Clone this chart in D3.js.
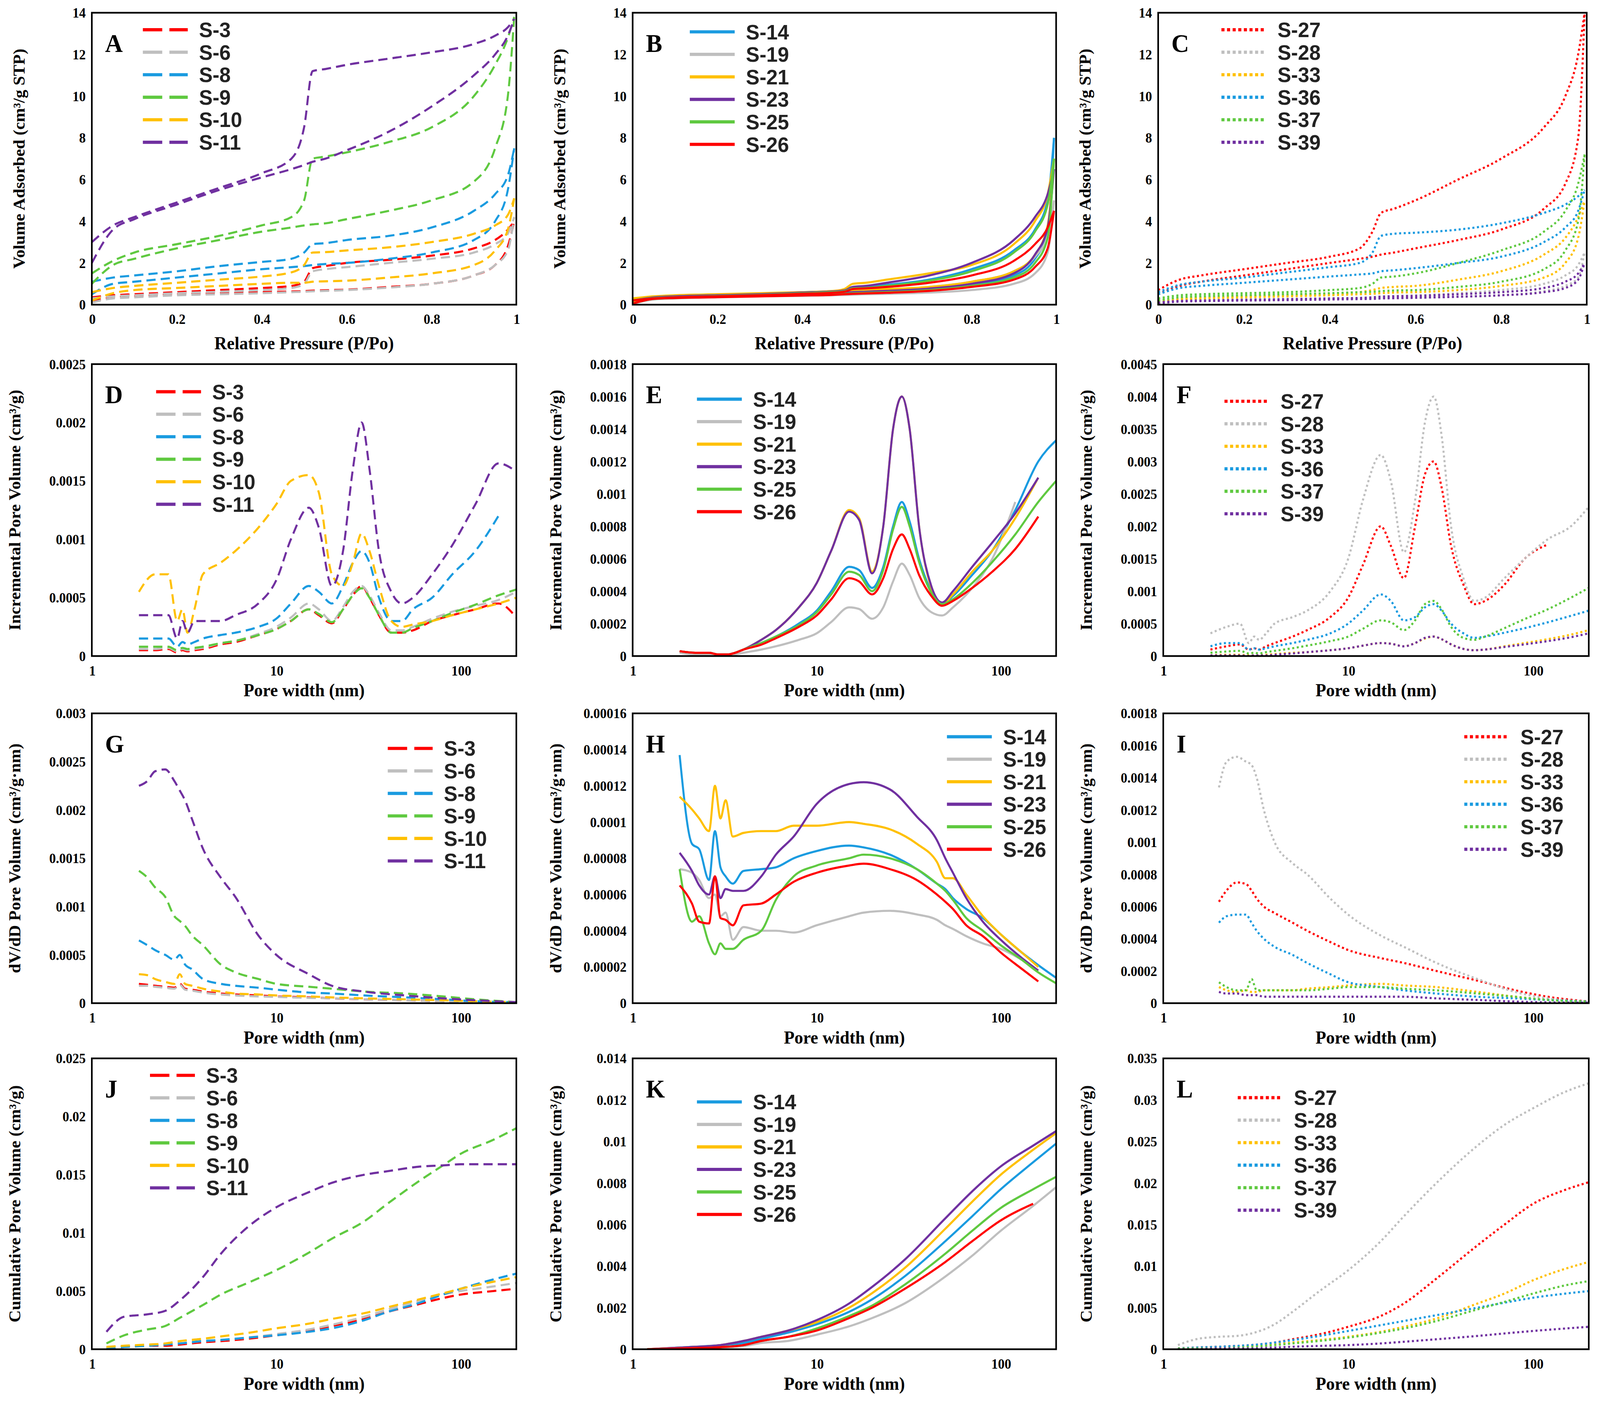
<!DOCTYPE html>
<html><head><meta charset="utf-8">
<script src="https://cdn.jsdelivr.net/npm/d3@7"></script>
<style>html,body{margin:0;padding:0;overflow:hidden;background:#fff}svg{display:block;width:100vw;height:100vh}</style>
</head><body>
<svg id="c" viewBox="0 0 1568 1332" preserveAspectRatio="none"></svg>
<script>
// ---- data ----
var pressure = [0,0.05,0.1,0.2,0.3,0.4,0.47,0.5,0.52,0.55,0.6,0.7,0.8,0.9,0.95,0.98,0.995];

// panel A (adsorption / desorption branches)
var aNames = ["S-3","S-6","S-8","S-9","S-10","S-11"];
var aAds = [
  [0.15,0.35,0.4,0.5,0.55,0.6,0.63,0.65,0.67,0.69,0.72,0.85,1.0,1.4,1.9,2.8,4.0],
  [0.1,0.3,0.35,0.45,0.5,0.55,0.6,0.62,0.64,0.66,0.7,0.82,1.0,1.4,1.9,2.6,4.2],
  [0.5,1.0,1.1,1.3,1.5,1.7,1.8,1.85,1.9,1.95,2.0,2.2,2.5,3.1,4.0,5.5,7.5],
  [1.0,1.9,2.2,2.7,3.1,3.5,3.7,3.8,3.85,3.9,4.1,4.5,5.0,5.9,7.5,10,13.8],
  [0.2,0.55,0.7,0.8,0.9,1.0,1.05,1.05,1.1,1.12,1.15,1.3,1.5,1.9,2.6,3.6,5.1],
  [2.0,3.6,4.1,4.8,5.5,6.1,6.5,6.7,6.85,7.0,7.4,8.3,9.5,11.0,12.0,12.9,13.7]];
var aDes = [
  [0.35,0.45,0.5,0.6,0.7,0.8,0.9,1.1,1.75,1.85,2.0,2.15,2.35,2.7,3.1,3.6,4.0],
  [0.3,0.4,0.45,0.55,0.62,0.7,0.8,1.0,1.6,1.7,1.8,2.0,2.2,2.5,2.9,3.4,4.2],
  [1.1,1.3,1.4,1.6,1.85,2.05,2.2,2.5,2.9,2.95,3.1,3.3,3.7,4.5,5.3,6.2,7.5],
  [1.5,2.1,2.5,2.9,3.3,3.8,4.2,5.0,7.0,7.1,7.3,7.8,8.5,10,11.5,12.8,13.8],
  [0.6,0.8,0.9,1.05,1.2,1.35,1.55,1.9,2.5,2.52,2.6,2.75,3.0,3.4,3.8,4.3,5.1],
  [3.0,3.8,4.2,4.9,5.6,6.3,7.0,8.5,11.2,11.3,11.5,11.8,12.1,12.5,12.9,13.3,13.7]];

// panel B
var bNames = ["S-14","S-19","S-21","S-23","S-25","S-26"];
var bAds = [
  [0.05,0.3,0.35,0.4,0.45,0.5,0.55,0.57,0.6,0.62,0.65,0.75,0.95,1.4,2.2,3.5,8.0],
  [0.05,0.25,0.3,0.35,0.4,0.42,0.45,0.47,0.48,0.5,0.52,0.58,0.7,1.0,1.5,2.5,5.0],
  [0.1,0.35,0.4,0.45,0.5,0.55,0.6,0.65,0.7,0.72,0.75,0.85,1.1,1.6,2.4,3.8,7.0],
  [0.05,0.3,0.35,0.4,0.45,0.5,0.55,0.57,0.6,0.62,0.66,0.77,1.0,1.5,2.4,3.7,6.5],
  [0.05,0.28,0.32,0.38,0.42,0.47,0.5,0.52,0.55,0.57,0.6,0.7,0.9,1.3,2.0,3.2,7.0],
  [0.05,0.28,0.32,0.36,0.4,0.44,0.47,0.5,0.52,0.54,0.57,0.66,0.85,1.2,1.8,2.7,4.5]];
var bDes = [
  [0.2,0.35,0.4,0.45,0.5,0.6,0.65,0.7,0.85,0.87,0.95,1.2,1.7,2.6,3.6,5,8.0],
  [0.15,0.3,0.33,0.38,0.42,0.48,0.52,0.55,0.62,0.64,0.7,0.85,1.1,1.6,2.3,3.3,5.0],
  [0.3,0.4,0.45,0.5,0.55,0.6,0.65,0.75,1.0,1.05,1.2,1.5,1.9,2.9,4.0,5.3,7.0],
  [0.2,0.35,0.4,0.45,0.5,0.58,0.63,0.68,0.85,0.9,1.05,1.4,2.0,3.1,4.2,5.3,6.5],
  [0.2,0.32,0.36,0.42,0.47,0.55,0.6,0.65,0.78,0.8,0.9,1.15,1.6,2.5,3.5,4.8,7.0],
  [0.2,0.3,0.35,0.4,0.45,0.52,0.57,0.62,0.75,0.78,0.85,1.05,1.4,2.1,2.9,3.7,4.5]];

// panel C
var cNames = ["S-27","S-28","S-33","S-36","S-37","S-39"];
var cAds = [
  [0.5,0.9,1.1,1.4,1.7,2.0,2.2,2.3,2.4,2.5,2.7,3.1,3.6,4.6,5.8,8,14],
  [0.05,0.15,0.18,0.2,0.22,0.25,0.27,0.28,0.3,0.31,0.33,0.38,0.45,0.65,0.9,1.3,2.5],
  [0.1,0.25,0.3,0.35,0.4,0.45,0.5,0.52,0.55,0.58,0.6,0.7,0.9,1.3,2.0,3.2,5.0],
  [0.5,0.8,0.9,1.05,1.2,1.35,1.45,1.5,1.6,1.65,1.75,2.0,2.3,3.0,3.7,4.5,5.5],
  [0.2,0.35,0.4,0.45,0.5,0.55,0.6,0.62,0.65,0.68,0.7,0.85,1.1,1.7,2.6,4.0,7.2],
  [0.05,0.15,0.17,0.2,0.22,0.25,0.27,0.28,0.3,0.31,0.33,0.38,0.45,0.6,0.8,1.2,2.0]];
var cDes = [
  [0.7,1.2,1.4,1.7,2.0,2.3,2.7,3.5,4.4,4.6,5.0,6.0,7.0,8.5,10,12,14],
  [0.1,0.2,0.22,0.25,0.28,0.3,0.33,0.36,0.4,0.42,0.45,0.55,0.7,1.0,1.4,1.9,2.5],
  [0.2,0.3,0.35,0.4,0.45,0.5,0.6,0.7,0.8,0.85,0.9,1.2,1.6,2.4,3.2,4.2,5.0],
  [0.6,0.95,1.1,1.3,1.55,1.8,2.0,2.5,3.3,3.4,3.45,3.6,3.9,4.4,4.8,5.2,5.5],
  [0.3,0.45,0.5,0.55,0.6,0.7,0.8,1.0,1.3,1.35,1.5,2.0,2.6,3.5,4.5,5.8,7.2],
  [0.1,0.18,0.2,0.23,0.26,0.3,0.32,0.35,0.38,0.4,0.42,0.5,0.6,0.8,1.1,1.5,2.0]];

// incremental pore volume (D, E, F)
var incWidth = [1.8,2.2,2.6,2.9,3.1,3.3,3.6,4,5,6,8,10,12,15,17,20,23,26,29,32,36,42,48,55,70,90,120,160,200];
var dVals = [
  [5e-5,5e-5,6e-5,3e-5,5e-5,4e-5,5e-5,6e-5,1e-4,1.2e-4,1.8e-4,2.3e-4,3e-4,4e-4,3.5e-4,2.8e-4,4e-4,5.2e-4,6e-4,5e-4,3.5e-4,2e-4,2e-4,2.2e-4,3e-4,3.5e-4,4e-4,4.5e-4,3.3e-4],
  [6e-5,6e-5,7e-5,4e-5,6e-5,5e-5,6e-5,7e-5,1.1e-4,1.3e-4,1.9e-4,2.5e-4,3.3e-4,4.5e-4,4e-4,3e-4,4.2e-4,5.5e-4,6e-4,5.2e-4,3.7e-4,2.2e-4,2.2e-4,2.5e-4,3.2e-4,3.8e-4,4.3e-4,4.8e-4,5.5e-4],
  [1.5e-4,1.5e-4,1.5e-4,8e-5,1.2e-4,1e-4,1.2e-4,1.5e-4,1.8e-4,2e-4,2.5e-4,3.2e-4,4.5e-4,6e-4,5.5e-4,4.5e-4,6e-4,8e-4,9e-4,8e-4,5e-4,3e-4,3e-4,4e-4,5e-4,7e-4,9e-4,1.2e-3,null],
  [8e-5,8e-5,8e-5,5e-5,7e-5,6e-5,7e-5,8e-5,1.1e-4,1.3e-4,1.8e-4,2.3e-4,3e-4,4e-4,3.6e-4,2.9e-4,4e-4,5.2e-4,5.8e-4,5e-4,3.5e-4,2e-4,2e-4,2.4e-4,3e-4,3.7e-4,4.4e-4,5.2e-4,5.7e-4],
  [5.5e-4,7e-4,7e-4,3e-4,4e-4,2e-4,4e-4,7e-4,8e-4,9e-4,1.1e-3,1.3e-3,1.5e-3,1.55e-3,1.4e-3,7e-4,6e-4,8e-4,1.05e-3,9e-4,6e-4,3e-4,2.5e-4,2.7e-4,3e-4,3.5e-4,4e-4,4.5e-4,5e-4],
  [3.5e-4,3.5e-4,3.5e-4,1.5e-4,3e-4,2e-4,3e-4,3e-4,3e-4,3.5e-4,4.5e-4,6.5e-4,1e-3,1.27e-3,1.1e-3,6e-4,9e-4,1.6e-3,2e-3,1.6e-3,9e-4,5.5e-4,4.5e-4,5e-4,7e-4,9.5e-4,1.3e-3,1.65e-3,1.58e-3]];
var eVals = [
  [3e-5,2e-5,2e-5,1e-5,1e-5,1e-5,2e-5,4e-5,8e-5,1.2e-4,2e-4,2.8e-4,4e-4,5.5e-4,5.3e-4,4.2e-4,5.5e-4,8e-4,9.5e-4,8.3e-4,6e-4,4e-4,3.2e-4,3.7e-4,5e-4,6.5e-4,9e-4,1.2e-3,1.33e-3],
  [2e-5,1e-5,1e-5,0,0,0,1e-5,2e-5,4e-5,6e-5,1e-4,1.4e-4,2.1e-4,3e-4,2.9e-4,2.3e-4,3e-4,4.6e-4,5.7e-4,5e-4,3.6e-4,2.7e-4,2.5e-4,3e-4,4.2e-4,6e-4,9.5e-4,null,null],
  [3e-5,2e-5,2e-5,1e-5,1e-5,1e-5,2e-5,4e-5,1e-4,1.6e-4,3e-4,4.5e-4,6.5e-4,9e-4,8.5e-4,5.2e-4,8e-4,1.4e-3,1.6e-3,1.4e-3,8e-4,4.2e-4,3.2e-4,3.8e-4,5.2e-4,6.5e-4,8.5e-4,1.1e-3,null],
  [3e-5,2e-5,2e-5,1e-5,1e-5,1e-5,2e-5,4e-5,1e-4,1.6e-4,3e-4,4.5e-4,6.5e-4,8.9e-4,8.4e-4,5.1e-4,8e-4,1.4e-3,1.6e-3,1.4e-3,8e-4,4.3e-4,3.3e-4,4e-4,5.5e-4,7e-4,8.8e-4,1.1e-3,null],
  [3e-5,2e-5,2e-5,1e-5,1e-5,1e-5,2e-5,4e-5,8e-5,1.2e-4,1.9e-4,2.7e-4,3.8e-4,5.2e-4,5e-4,4e-4,5.3e-4,7.8e-4,9.2e-4,8e-4,5.8e-4,3.9e-4,3.2e-4,3.5e-4,4.5e-4,5.8e-4,7.5e-4,9.5e-4,1.08e-3],
  [3e-5,2e-5,2e-5,1e-5,1e-5,1e-5,2e-5,4e-5,7e-5,1.1e-4,1.8e-4,2.5e-4,3.5e-4,4.8e-4,4.6e-4,3.8e-4,4.8e-4,6.6e-4,7.5e-4,6.6e-4,5e-4,3.7e-4,3.1e-4,3.4e-4,4.2e-4,5.2e-4,6.6e-4,8.6e-4,null]];
var fVals = [
  [1e-4,1.5e-4,1.8e-4,1e-4,1.2e-4,1e-4,1.5e-4,2e-4,3e-4,4e-4,6e-4,9e-4,1.4e-3,2e-3,1.7e-3,1.2e-3,2e-3,2.8e-3,3e-3,2.6e-3,1.7e-3,1.1e-3,8e-4,8.5e-4,1.1e-3,1.5e-3,1.72e-3,null,null],
  [3.5e-4,4.5e-4,5e-4,2e-4,3e-4,2.5e-4,3.5e-4,5e-4,6e-4,7e-4,1e-3,1.5e-3,2.4e-3,3.1e-3,2.7e-3,1.6e-3,2.4e-3,3.6e-3,4e-3,3.4e-3,2e-3,1.2e-3,8.5e-4,9e-4,1.2e-3,1.5e-3,1.8e-3,2e-3,2.3e-3],
  [1e-5,2e-5,2e-5,1e-5,1e-5,1e-5,2e-5,3e-5,5e-5,6e-5,9e-5,1.2e-4,1.6e-4,2e-4,1.9e-4,1.5e-4,2e-4,2.7e-4,3e-4,2.6e-4,1.8e-4,1.1e-4,9e-5,1e-4,1.5e-4,2e-4,2.6e-4,3.3e-4,4e-4],
  [1.5e-4,2e-4,2e-4,1e-4,1.2e-4,1e-4,1.2e-4,1.5e-4,2e-4,2.5e-4,3.5e-4,5e-4,7e-4,9.5e-4,8.5e-4,5.5e-4,6e-4,7.5e-4,8e-4,7e-4,5e-4,3.5e-4,2.8e-4,3e-4,3.6e-4,4.3e-4,5.2e-4,6.2e-4,7e-4],
  [5e-5,7e-5,8e-5,4e-5,5e-5,4e-5,6e-5,8e-5,1.2e-4,1.6e-4,2.3e-4,3e-4,4.2e-4,5.5e-4,5.2e-4,4e-4,5.5e-4,8e-4,8.5e-4,7.2e-4,4.5e-4,2.8e-4,2.5e-4,3e-4,4.3e-4,5.7e-4,7.2e-4,9e-4,1.05e-3],
  [1e-5,1e-5,1e-5,0,1e-5,1e-5,1e-5,2e-5,4e-5,6e-5,9e-5,1.2e-4,1.6e-4,2e-4,1.9e-4,1.5e-4,2e-4,2.8e-4,3e-4,2.6e-4,1.8e-4,1.1e-4,9e-5,1e-4,1.4e-4,1.8e-4,2.3e-4,2.9e-4,3.5e-4]];

// dV/dD (G, H, I)
var gWidth = [1.8,2,2.2,2.5,2.8,3,3.2,3.5,4,5,6,8,10,15,20,30,50,80,120,200];
var gVals = [
  [2e-4,1.9e-4,1.8e-4,1.7e-4,1.6e-4,2e-4,1.5e-4,1.4e-4,1.2e-4,1e-4,9e-5,8e-5,7e-5,6e-5,5e-5,4e-5,3e-5,2e-5,1e-5,5e-6],
  [1.8e-4,1.8e-4,1.7e-4,1.6e-4,1.5e-4,1.9e-4,1.4e-4,1.3e-4,1.1e-4,9e-5,8e-5,7e-5,6.5e-5,5.5e-5,5e-5,4e-5,3e-5,2e-5,1e-5,5e-6],
  [6.5e-4,6e-4,5.5e-4,5e-4,4.5e-4,5e-4,4e-4,3.5e-4,2.5e-4,2e-4,1.8e-4,1.6e-4,1.4e-4,1.1e-4,1e-4,8e-5,6e-5,4e-5,2e-5,1e-5],
  [1.37e-3,1.3e-3,1.2e-3,1.1e-3,9e-4,8.5e-4,8e-4,7e-4,6e-4,4e-4,3.2e-4,2.5e-4,2e-4,1.7e-4,1.5e-4,1.2e-4,1e-4,7e-5,4e-5,1e-5],
  [3e-4,2.9e-4,2.5e-4,2.2e-4,2e-4,3e-4,2e-4,1.8e-4,1.5e-4,1.2e-4,1e-4,9e-5,8e-5,7e-5,6e-5,5e-5,4e-5,3e-5,2e-5,1e-5],
  [2.25e-3,2.3e-3,2.4e-3,2.42e-3,2.3e-3,2.2e-3,2.1e-3,1.9e-3,1.6e-3,1.3e-3,1.1e-3,7e-4,5e-4,3e-4,1.8e-4,1.2e-4,8e-5,5e-5,3e-5,1e-5]];
var hWidth = [1.8,2.1,2.3,2.6,2.8,3.0,3.2,3.5,4.0,5,6,7.5,10,15,18,25,35,45,50,55,65,80,100,130,160,200];
var hVals = [
  [1.37e-4,8.8e-5,8.5e-5,6.8e-5,9.5e-5,7.5e-5,7e-5,6.6e-5,7.3e-5,7.4e-5,7.5e-5,8e-5,8.4e-5,8.7e-5,8.6e-5,8.2e-5,7.4e-5,6.6e-5,6.3e-5,5.8e-5,5.2e-5,4.7e-5,3.8e-5,2.8e-5,2.1e-5,1.4e-5],
  [7.4e-5,7.2e-5,6.8e-5,5.8e-5,6e-5,4.8e-5,5e-5,3.5e-5,4.2e-5,4e-5,4e-5,3.9e-5,4.3e-5,4.8e-5,5e-5,5.1e-5,4.9e-5,4.6e-5,4.3e-5,4.1e-5,3.7e-5,3.3e-5,3e-5,2.4e-5,null,null],
  [1.14e-4,1.07e-4,1.02e-4,9.5e-5,1.2e-4,1.02e-4,1.12e-4,9.2e-5,9.4e-5,9.5e-5,9.5e-5,9.8e-5,9.8e-5,1e-4,9.9e-5,9.6e-5,8.8e-5,7.8e-5,6.9e-5,6.9e-5,6e-5,4.8e-5,3.8e-5,2.8e-5,2e-5,null],
  [8.3e-5,7.3e-5,6.5e-5,6e-5,7e-5,5.8e-5,6.3e-5,6.2e-5,6.2e-5,7e-5,8.2e-5,9.2e-5,1.1e-4,1.21e-4,1.22e-4,1.18e-4,1.03e-4,9e-5,8e-5,7.2e-5,5.8e-5,4.5e-5,3.5e-5,2.5e-5,1.8e-5,null],
  [7.4e-5,4.5e-5,4.8e-5,3.3e-5,2.7e-5,3.3e-5,3e-5,3e-5,3.5e-5,4e-5,5.7e-5,7e-5,7.6e-5,8e-5,8.2e-5,8e-5,7.4e-5,6.6e-5,6.2e-5,5.7e-5,4.7e-5,4e-5,3.2e-5,2.4e-5,1.7e-5,1.1e-5],
  [6.5e-5,5.5e-5,4.5e-5,4.4e-5,7e-5,4.7e-5,4.6e-5,4.3e-5,5.4e-5,5.5e-5,6e-5,6.7e-5,7.2e-5,7.6e-5,7.7e-5,7.4e-5,6.8e-5,6e-5,5.6e-5,5.2e-5,4.3e-5,3.7e-5,2.8e-5,1.9e-5,1.2e-5,null]];
var iWidth = [2,2.2,2.5,2.8,3.0,3.2,3.5,4,5,6,8,10,15,20,30,50,80,120,200];
var iVals = [
  [6.3e-4,7e-4,7.5e-4,7.4e-4,7e-4,6.5e-4,6e-4,5.6e-4,5e-4,4.5e-4,3.8e-4,3.3e-4,2.8e-4,2.5e-4,2e-4,1.4e-4,8e-5,4e-5,1e-5],
  [1.34e-3,1.5e-3,1.53e-3,1.5e-3,1.48e-3,1.4e-3,1.2e-3,1e-3,8.7e-4,8e-4,6.5e-4,5.5e-4,4.2e-4,3.5e-4,2.5e-4,1.5e-4,7e-5,3e-5,1e-5],
  [1e-4,8e-5,7e-5,8e-5,7e-5,7e-5,8e-5,8e-5,8e-5,9e-5,1e-4,1.1e-4,1.2e-4,1.1e-4,1e-4,7e-5,4e-5,2e-5,1e-5],
  [5e-4,5.4e-4,5.5e-4,5.5e-4,5e-4,4.5e-4,4e-4,3.5e-4,3e-4,2.5e-4,1.8e-4,1.3e-4,1e-4,8e-5,6e-5,4e-5,3e-5,2e-5,1e-5],
  [1.3e-4,1e-4,8e-5,8e-5,1.5e-4,8e-5,8e-5,8e-5,8e-5,8e-5,9e-5,1e-4,1e-4,9e-5,8e-5,6e-5,4e-5,2e-5,1e-5],
  [7e-5,6e-5,6e-5,5e-5,5e-5,5e-5,4e-5,4e-5,4e-5,4e-5,4e-5,4e-5,4e-5,4e-5,3e-5,2e-5,1e-5,5e-6,3e-6]];

// cumulative (J, K, L)
var jWidth = [1.2,1.5,2,2.5,3,4,5,7,10,15,20,30,40,60,80,100,150,200];
var jVals = [
  [1e-4,2e-4,3e-4,3e-4,4e-4,6e-4,7e-4,9e-4,1.2e-3,1.6e-3,2e-3,2.6e-3,3.2e-3,3.9e-3,4.4e-3,4.7e-3,5e-3,5.2e-3],
  [1e-4,2e-4,3e-4,4e-4,5e-4,7e-4,8e-4,1e-3,1.3e-3,1.7e-3,2.1e-3,2.8e-3,3.4e-3,4.2e-3,4.7e-3,5e-3,5.4e-3,5.7e-3],
  [1e-4,2e-4,3e-4,4e-4,5e-4,7e-4,8e-4,1e-3,1.2e-3,1.5e-3,1.8e-3,2.5e-3,3.2e-3,4e-3,4.7e-3,5.2e-3,6e-3,6.5e-3],
  [5e-4,1.2e-3,1.7e-3,2e-3,2.7e-3,3.8e-3,4.7e-3,5.7e-3,6.8e-3,8.3e-3,9.5e-3,1.1e-2,1.25e-2,1.45e-2,1.58e-2,1.68e-2,1.8e-2,1.9e-2],
  [2e-4,3e-4,4e-4,5e-4,7e-4,9e-4,1.1e-3,1.4e-3,1.8e-3,2.2e-3,2.6e-3,3.1e-3,3.6e-3,4.3e-3,4.8e-3,5.2e-3,5.8e-3,6.2e-3],
  [1.5e-3,2.8e-3,3e-3,3.3e-3,4.2e-3,6.2e-3,8.2e-3,1.05e-2,1.22e-2,1.35e-2,1.43e-2,1.5e-2,1.53e-2,1.57e-2,1.58e-2,1.59e-2,1.59e-2,1.59e-2]];
var kWidth = [1.2,2,3,4,5,7,10,15,20,30,50,70,100,150,200];
var kVals = [
  [0,1e-4,2e-4,3e-4,5e-4,8e-4,1.2e-3,1.8e-3,2.4e-3,3.5e-3,5.2e-3,6.4e-3,7.7e-3,9e-3,9.9e-3],
  [0,3e-5,8e-5,1.5e-4,3e-4,4e-4,7e-4,1.1e-3,1.5e-3,2.2e-3,3.5e-3,4.5e-3,5.7e-3,6.9e-3,7.8e-3],
  [0,1e-4,2e-4,4e-4,6e-4,9e-4,1.3e-3,2e-3,2.7e-3,3.9e-3,5.8e-3,7.1e-3,8.4e-3,9.6e-3,1.04e-2],
  [0,1e-4,2e-4,4e-4,6e-4,9e-4,1.4e-3,2.2e-3,3e-3,4.3e-3,6.3e-3,7.6e-3,8.8e-3,9.8e-3,1.05e-2],
  [0,5e-5,1e-4,2e-4,4e-4,6e-4,1e-3,1.6e-3,2.1e-3,3.1e-3,4.6e-3,5.7e-3,6.8e-3,7.7e-3,8.3e-3],
  [0,5e-5,1e-4,2e-4,4e-4,6e-4,9e-4,1.5e-3,2e-3,2.9e-3,4.2e-3,5.2e-3,6.2e-3,7e-3,null]];
var lWidth = [1.2,1.5,2,2.5,3,4,5,7,10,15,20,30,50,70,100,150,200];
var lVals = [
  [1e-4,2e-4,3e-4,4e-4,5e-4,8e-4,1.2e-3,1.8e-3,2.7e-3,4e-3,5.5e-3,8.5e-3,1.25e-2,1.5e-2,1.75e-2,1.92e-2,2.01e-2],
  [5e-4,1.2e-3,1.5e-3,1.6e-3,1.9e-3,3e-3,4.5e-3,7e-3,9.5e-3,1.3e-2,1.6e-2,2e-2,2.45e-2,2.7e-2,2.9e-2,3.1e-2,3.2e-2],
  [1e-4,1e-4,2e-4,3e-4,4e-4,6e-4,8e-4,1.1e-3,1.5e-3,2.1e-3,2.7e-3,3.7e-3,5.5e-3,6.7e-3,8.3e-3,9.7e-3,1.05e-2],
  [1e-4,2e-4,3e-4,4e-4,5e-4,8e-4,1.1e-3,1.6e-3,2.2e-3,2.9e-3,3.4e-3,4.1e-3,5e-3,5.6e-3,6.2e-3,6.7e-3,7e-3],
  [1e-4,1e-4,1e-4,2e-4,3e-4,5e-4,7e-4,1e-3,1.4e-3,2e-3,2.5e-3,3.4e-3,4.8e-3,5.7e-3,6.7e-3,7.7e-3,8.2e-3],
  [0,0,1e-4,1e-4,1e-4,2e-4,3e-4,4e-4,5e-4,7e-4,9e-4,1.2e-3,1.6e-3,1.9e-3,2.2e-3,2.5e-3,2.7e-3]];

var colorsA = ["#FF0000","#BFBFBF","#1A9BE0","#5FC940","#FFC000","#7030A0"];
var colorsB = ["#1A9BE0","#BFBFBF","#FFC000","#7030A0","#5FC940","#FF0000"];
var colorsC = ["#FF0000","#BFBFBF","#FFC000","#1A9BE0","#5FC940","#7030A0"];

var pTicks = [0,0.2,0.4,0.6,0.8,1];
var logTicks = [1,10,100];

// ---- panels ----
var cols = [[90,506],[620,1035],[1140,1557]];
var rows = [[12,287],[343,618],[672,945],[997,1271]];
var titlesY = ["Volume Adsorbed (cm\u00B3/g STP)","Incremental Pore Volume (cm\u00B3/g)","dV/dD Pore Volume (cm\u00B3/g\u00B7nm)","Cumulative Pore Volume (cm\u00B3/g)"];
var dash = ["9,5", null, "2,2.5"];

var panels = [
  {L:"A",r:0,c:0,iso:true,names:aNames,ads:aAds,des:aDes,col:colorsA,yt:d3.range(0,15,2),leg:[140,28]},
  {L:"B",r:0,c:1,iso:true,names:bNames,ads:bAds,des:bDes,col:colorsB,yt:d3.range(0,15,2),leg:[676,30]},
  {L:"C",r:0,c:2,iso:true,names:cNames,ads:cAds,des:cDes,col:colorsC,yt:d3.range(0,15,2),leg:[1197,28],box:[1135,1555]},
  {L:"D",r:1,c:0,names:aNames,x:incWidth,v:dVals,col:colorsA,yt:[0,0.0005,0.001,0.0015,0.002,0.0025],leg:[153,369]},
  {L:"E",r:1,c:1,names:bNames,x:incWidth,v:eVals,col:colorsB,yt:[0,0.0002,0.0004,0.0006,0.0008,0.001,0.0012,0.0014,0.0016,0.0018],leg:[683,376]},
  {L:"F",r:1,c:2,names:cNames,x:incWidth,v:fVals,col:colorsC,yt:[0,0.0005,0.001,0.0015,0.002,0.0025,0.003,0.0035,0.004,0.0045],leg:[1200,378]},
  {L:"G",r:2,c:0,names:aNames,x:gWidth,v:gVals,col:colorsA,yt:[0,0.0005,0.001,0.0015,0.002,0.0025,0.003],leg:[380,705]},
  {L:"H",r:2,c:1,names:bNames,x:hWidth,v:hVals,col:colorsB,yt:[0,0.00002,0.00004,0.00006,0.00008,0.0001,0.00012,0.00014,0.00016],leg:[928,694]},
  {L:"I",r:2,c:2,names:cNames,x:iWidth,v:iVals,col:colorsC,yt:[0,0.0002,0.0004,0.0006,0.0008,0.001,0.0012,0.0014,0.0016,0.0018],leg:[1435,694]},
  {L:"J",r:3,c:0,names:aNames,x:jWidth,v:jVals,col:colorsA,yt:[0,0.005,0.01,0.015,0.02,0.025],leg:[147,1013]},
  {L:"K",r:3,c:1,names:bNames,x:kWidth,v:kVals,col:colorsB,yt:[0,0.002,0.004,0.006,0.008,0.01,0.012,0.014],leg:[683,1038]},
  {L:"L",r:3,c:2,names:cNames,x:lWidth,v:lVals,col:colorsC,yt:[0,0.005,0.01,0.015,0.02,0.025,0.03,0.035],leg:[1213,1034]}
];

var svg = d3.select("#c");
var fmt = function(d){ return String(+d.toFixed(6)); };

panels.forEach(function(p){
  var xr = p.box || cols[p.c], yr = rows[p.r];
  var g = svg.append("g");
  var x = p.iso ? d3.scaleLinear().domain([0,1]).range(xr)
                : d3.scaleLog().domain([1,200]).range(xr);
  var y = d3.scaleLinear().domain([0, p.yt[p.yt.length-1]]).range([yr[1], yr[0]]);
  var clipId = "clip" + p.L;
  g.append("clipPath").attr("id", clipId).append("rect")
    .attr("x", xr[0]).attr("y", yr[0]-2).attr("width", xr[1]-xr[0]).attr("height", yr[1]-yr[0]+2);

  var xa = p.iso ? d3.axisBottom(x).tickValues(pTicks).tickFormat(fmt)
                 : d3.axisBottom(x).tickValues(logTicks).tickFormat(d3.format("d"));
  var ax = g.append("g").attr("transform","translate(0,"+yr[1]+")").call(xa.tickSize(0).tickPadding(9));
  var ay = g.append("g").attr("transform","translate("+xr[0]+",0)").call(d3.axisLeft(y).tickValues(p.yt).tickFormat(fmt).tickSize(0).tickPadding(6));
  [ax, ay].forEach(function(a){
    a.select(".domain").remove();
    a.selectAll("text").attr("font-family","Liberation Serif").attr("font-weight","bold").attr("font-size",13).attr("fill","#000");
  });

  var lines = g.append("g").attr("clip-path","url(#"+clipId+")");
  var mk = function(){
    return d3.line().defined(function(d){ return d[1] != null; })
      .x(function(d){ return x(d[0]); }).y(function(d){ return y(d[1]); })
      .curve(d3.curveMonotoneX);
  };
  var style = function(path, i){
    path.attr("fill","none").attr("stroke", p.col[i]).attr("stroke-width", 2)
      .attr("stroke-dasharray", dash[p.c]);
  };
  p.names.forEach(function(n, i){
    if (p.iso) {
      [p.ads[i], p.des[i]].forEach(function(arr){
        lines.append("path").datum(pressure.map(function(v,k){ return [v, arr[k]]; }))
          .attr("d", mk()).call(style, i);
      });
    } else {
      lines.append("path").datum(p.x.map(function(v,k){ return [v, p.v[i][k]]; }))
        .attr("d", mk()).call(style, i);
    }
  });

  g.append("rect").attr("x",xr[0]).attr("y",yr[0]).attr("width",xr[1]-xr[0]).attr("height",yr[1]-yr[0])
    .attr("fill","none").attr("stroke","#000").attr("stroke-width",1.6);

  // titles
  g.append("text").attr("x",(xr[0]+xr[1])/2).attr("y",yr[1]+(p.r===0?42:38))
    .attr("text-anchor","middle").attr("font-family","Liberation Serif").attr("font-weight","bold").attr("font-size",17)
    .text(p.iso ? "Relative Pressure (P/Po)" : "Pore width (nm)");
  g.append("text").attr("transform","translate("+(xr[0]-(p.r===0?66:70))+","+((yr[0]+yr[1])/2)+") rotate(-90)")
    .attr("text-anchor","middle").attr("font-family","Liberation Serif").attr("font-weight","bold").attr("font-size",16)
    .text(titlesY[p.r]);

  // panel letter
  g.append("text").attr("x",xr[0]+13).attr("y",yr[0]+37)
    .attr("font-family","Liberation Serif").attr("font-weight","bold").attr("font-size",24).text(p.L);

  // legend
  var lg = g.append("g").attr("transform","translate("+p.leg[0]+","+p.leg[1]+")");
  p.names.forEach(function(n, i){
    var yy = i*21.2;
    lg.append("line").attr("x1",0).attr("x2",44).attr("y1",yy).attr("y2",yy)
      .attr("stroke",p.col[i]).attr("stroke-width",3).attr("stroke-dasharray", p.c===0?"19,7":(p.c===2?"3,2.5":null));
    lg.append("text").attr("x",55).attr("y",yy+7).attr("font-family","Liberation Sans").attr("font-weight","bold")
      .attr("font-size",20).attr("fill","#222").text(n);
  });
});
</script>
</body></html>
